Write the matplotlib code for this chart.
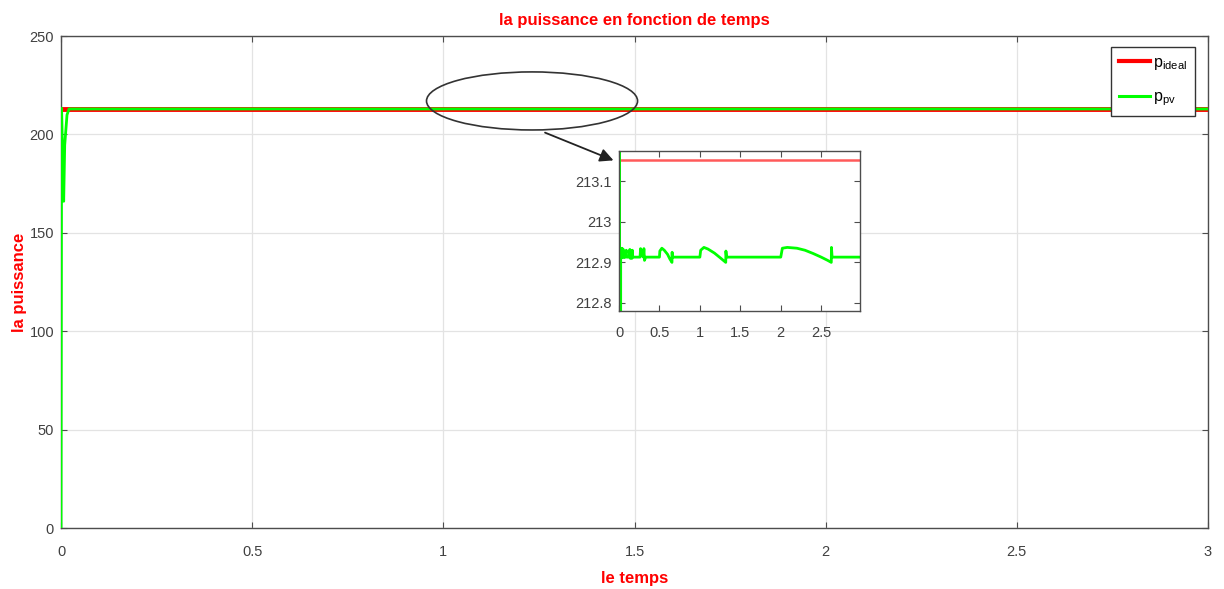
import matplotlib
matplotlib.use("Agg")
import matplotlib.pyplot as plt
from matplotlib.patches import Ellipse
from matplotlib.lines import Line2D

# ---- data -------------------------------------------------------------
t_ideal = [0.0, 3.0]
p_ideal = [213.153, 213.153]

t_pv = [0.0, 0.0015, 0.007, 0.0097, 0.0157, 0.021,
        0.025, 0.028, 0.032, 0.036, 0.042, 0.05, 0.056, 0.07, 0.09, 0.095,
        0.13, 0.134, 0.14, 0.16, 0.165, 0.17, 0.26, 0.267, 0.275, 0.30,
        0.308, 0.315, 0.33, 0.50, 0.505, 0.53, 0.56, 0.60, 0.63, 0.655,
        0.657, 0.66, 1.00, 1.01, 1.05, 1.10, 1.18, 1.26, 1.32, 1.322,
        1.33, 2.00, 2.02, 2.08, 2.20, 2.30, 2.40, 2.50, 2.58, 2.625,
        2.627, 2.635, 3.0]
p_pv = [0.0, 213.3, 166.0, 194.6, 209.9, 212.93,
        212.91, 212.934, 212.912, 212.935, 212.915, 212.933, 212.912, 212.912, 212.93, 212.913,
        212.913, 212.932, 212.91, 212.91, 212.93, 212.913, 212.913, 212.934, 212.92, 212.913,
        212.934, 212.905, 212.913, 212.913, 212.928, 212.935, 212.93, 212.92, 212.908, 212.90,
        212.925, 212.913, 212.913, 212.93, 212.937, 212.933, 212.923, 212.91, 212.90, 212.928,
        212.913, 212.913, 212.935, 212.937, 212.935, 212.93, 212.922, 212.913, 212.905, 212.90,
        212.937, 212.913, 212.913]

x_ticks = [0, 0.5, 1, 1.5, 2, 2.5, 3]
x_ticklabels = ["0", "0.5", "1", "1.5", "2", "2.5", "3"]
y_ticks = [0, 50, 100, 150, 200, 250]
y_ticklabels = ["0", "50", "100", "150", "200", "250"]

zoom_x_ticks = [0, 0.5, 1, 1.5, 2, 2.5]
zoom_x_ticklabels = ["0", "0.5", "1", "1.5", "2", "2.5"]
zoom_y_ticks = [212.8, 212.9, 213.0, 213.1]
zoom_y_ticklabels = ["212.8", "212.9", "213", "213.1"]

title_text = "la puissance en fonction de temps"
x_label = "le temps"
y_label = "la puissance"
legend_labels = [r"$\mathregular{p_{ideal}}$", r"$\mathregular{p_{pv}}$"]

# ---- style ------------------------------------------------------------
FONT = ["Liberation Sans Narrow", "Liberation Sans", "DejaVu Sans"]
plt.rcParams["font.family"] = FONT
plt.rcParams["mathtext.fontset"] = "custom"
plt.rcParams["mathtext.rm"] = "Liberation Sans"
RED = "#ff0000"
GREEN = "#00ff00"
SPINE = "#4d4d4d"
TICKTXT = "#404040"

W, H = 1224, 589
fig = plt.figure(figsize=(W / 100, H / 100), dpi=100)


def frac(x0, y0, x1, y1):
    return [x0 / W, 1 - y1 / H, (x1 - x0) / W, (y1 - y0) / H]


def style_axes(ax, size):
    for s in ax.spines.values():
        s.set_color(SPINE)
        s.set_linewidth(1.0)
    ax.tick_params(direction="in", length=4, width=0.8, color=SPINE,
                   labelcolor=TICKTXT, labelsize=size,
                   top=True, right=True)


# main axes
ax = fig.add_axes(frac(61, 36, 1208, 528))
ax.plot(t_ideal, p_ideal, color=RED, lw=3.5, zorder=3, solid_capstyle="butt")
ax.plot(t_pv, p_pv, color=GREEN, lw=2.0, zorder=4)
ax.set_xlim(0, 3)
ax.set_ylim(0, 250)
ax.set_xticks(x_ticks)
ax.set_xticklabels(x_ticklabels)
ax.set_yticks(y_ticks)
ax.set_yticklabels(y_ticklabels)
ax.grid(True, color="#e3e3e3", lw=0.9)
ax.set_axisbelow(True)
style_axes(ax, 10.5)
ax.tick_params(axis="x", pad=12)
ax.tick_params(axis="y", pad=5)

ax.set_title(title_text, color=RED, fontweight="bold", fontsize=12, pad=8)
ax.set_xlabel(x_label, color=RED, fontweight="bold", fontsize=12, labelpad=9)
ax.set_ylabel(y_label, color=RED, fontweight="bold", fontsize=12, labelpad=1.5)

handles = [Line2D([], [], color=RED, lw=3), Line2D([], [], color=GREEN, lw=2.2)]
leg = ax.legend(handles, legend_labels, loc="upper right",
                bbox_to_anchor=(1195 / W, 1 - 47 / H),
                bbox_transform=fig.transFigure, borderaxespad=0,
                fancybox=False, edgecolor="#333333", framealpha=1,
                fontsize=11.5, handlelength=1.9, handletextpad=0.2,
                labelspacing=1.1, borderpad=0.5)
leg.get_frame().set_linewidth(1.0)

# highlight of the steady-state region
ax.add_patch(Ellipse((1.232, 217.0), 0.552, 29.5, fill=False,
                     edgecolor="#333333", lw=1.2, zorder=5))
ax.annotate("", xy=(1.445, 186.8), xytext=(1.266, 200.9),
            arrowprops=dict(arrowstyle="-|>", color="#222222", lw=1.3,
                            mutation_scale=20, shrinkA=0, shrinkB=0),
            zorder=5)

# zoomed view
axz = fig.add_axes(frac(619, 151, 860, 311))
axz.set_facecolor("white")
axz.plot(t_ideal, p_ideal, color="#ff5a5a", lw=1.8)
axz.plot(t_pv, p_pv, color=GREEN, lw=2.0)
axz.set_xlim(0, 2.98)
axz.set_ylim(212.78, 213.175)
axz.set_xticks(zoom_x_ticks)
axz.set_xticklabels(zoom_x_ticklabels)
axz.set_yticks(zoom_y_ticks)
axz.set_yticklabels(zoom_y_ticklabels)
style_axes(axz, 10.5)
axz.tick_params(axis="x", pad=11)
axz.tick_params(axis="y", pad=5)

fig.savefig("out.png", dpi=100)
